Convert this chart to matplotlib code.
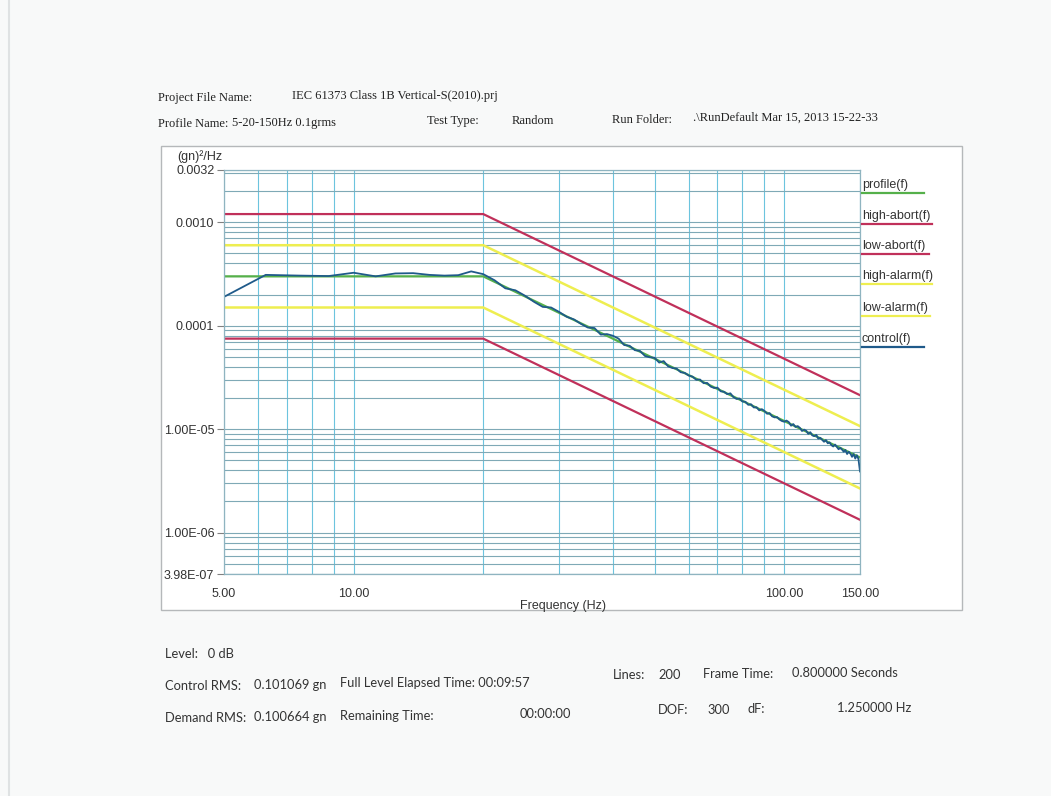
import numpy as np
import matplotlib.pyplot as plt
from matplotlib.lines import Line2D
from matplotlib.patches import Rectangle
from matplotlib.ticker import LogLocator, NullFormatter

# Profile / tolerance breakpoints (Hz, (gn)^2/Hz)
bp_freq = [5.0, 20.0, 150.0]
profile = [3.0e-4, 3.0e-4, 5.33e-6]
high_abort = [1.2e-3, 1.2e-3, 2.13e-5]
low_abort = [7.5e-5, 7.5e-5, 1.33e-6]
high_alarm = [6.0e-4, 6.0e-4, 1.07e-5]
low_alarm = [1.5e-4, 1.5e-4, 2.67e-6]

# Measured control spectrum, dF = 1.25 Hz starting at 5 Hz
df = 1.25
control = [
    # 5 - 20 Hz
    1.90e-4, 3.10e-4, 3.05e-4, 3.02e-4, 3.25e-4, 3.00e-4, 3.20e-4, 3.22e-4,
    3.10e-4, 3.05e-4, 3.08e-4, 3.35e-4, 3.15e-4,
    # 21.25 - 58.75 Hz
    2.75e-4, 2.30e-4, 2.20e-4, 1.95e-4, 1.70e-4, 1.52e-4, 1.50e-4, 1.36e-4,
    1.22e-4, 1.15e-4, 1.04e-4, 9.60e-5, 9.50e-5, 8.20e-5, 8.30e-5, 8.00e-5,
    7.50e-5, 6.50e-5, 6.40e-5, 5.80e-5, 5.70e-5, 5.10e-5, 4.95e-5, 4.90e-5,
    4.40e-5, 4.55e-5, 4.05e-5, 3.90e-5, 3.85e-5, 3.55e-5, 3.50e-5,
    # 60 - 98.75 Hz
    3.30e-5, 3.22e-5, 3.00e-5, 3.02e-5, 2.78e-5, 2.80e-5, 2.58e-5, 2.50e-5,
    2.52e-5, 2.32e-5, 2.30e-5, 2.18e-5, 2.22e-5, 2.04e-5, 1.96e-5, 1.98e-5,
    1.85e-5, 1.84e-5, 1.72e-5, 1.74e-5, 1.62e-5, 1.63e-5, 1.52e-5, 1.56e-5,
    1.50e-5, 1.41e-5, 1.43e-5, 1.33e-5, 1.30e-5, 1.31e-5, 1.24e-5, 1.20e-5,
    # 100 - 150 Hz
    1.18e-5, 1.21e-5, 1.17e-5, 1.08e-5, 1.12e-5, 1.05e-5, 1.07e-5, 1.03e-5,
    9.60e-6, 9.90e-6, 9.65e-6, 9.00e-6, 9.35e-6, 8.70e-6, 8.55e-6, 8.80e-6,
    8.10e-6, 8.25e-6, 7.90e-6, 7.55e-6, 7.85e-6, 7.30e-6, 7.45e-6, 7.00e-6,
    6.80e-6, 7.10e-6, 6.75e-6, 6.40e-6, 6.60e-6, 6.35e-6, 6.05e-6, 6.30e-6,
    5.75e-6, 6.05e-6, 5.80e-6, 5.40e-6, 5.75e-6, 5.20e-6, 5.60e-6, 5.15e-6,
    3.90e-6,
]
control_freq = 5.0 + df * np.arange(len(control))

y_ticks = [3.98e-7, 1e-6, 1e-5, 1e-4, 1e-3, 3.2e-3]
y_labels = ["3.98E-07", "1.00E-06", "1.00E-05", "0.0001", "0.0010", "0.0032"]
x_ticks = [5, 10, 100, 150]
x_labels = ["5.00", "10.00", "100.00", "150.00"]

legend_names = ["profile(f)", "high-abort(f)", "low-abort(f)",
                "high-alarm(f)", "low-alarm(f)", "control(f)"]

W, H = 1051, 796
c_green = "#55b04a"
c_red = "#c0305a"
c_yellow = "#eeee50"
c_blue = "#1f5a8a"


def px(x, y):
    return x / W, 1 - y / H


plt.rcParams["font.family"] = ["Liberation Sans", "DejaVu Sans"]
fig = plt.figure(figsize=(W / 100, H / 100), dpi=100, facecolor="#f8f9f9")

# page edge of the scan
fig.add_artist(Line2D([px(9, 0)[0]] * 2, [0, 1], transform=fig.transFigure,
                      color="#dfe2e3", lw=1.5))

# chart frame (behind the axes)
x0, y0 = px(161, 610)
x1, y1 = px(962, 146)
fig.patches.append(Rectangle((x0, y0), x1 - x0, y1 - y0, transform=fig.transFigure,
                             figure=fig, fill=True, facecolor="white",
                             edgecolor="#b5b8ba", lw=1.0, zorder=-5))

left, top = px(224, 170)
right, bottom = px(860, 574)
ax = fig.add_axes([left, bottom, right - left, top - bottom])
ax.set_facecolor("white")

ax.plot(bp_freq, high_abort, color=c_red, lw=1.6)
ax.plot(bp_freq, low_abort, color=c_red, lw=1.6)
ax.plot(bp_freq, high_alarm, color=c_yellow, lw=1.8)
ax.plot(bp_freq, low_alarm, color=c_yellow, lw=1.8)
ax.plot(bp_freq, profile, color=c_green, lw=1.6)
ax.plot(control_freq, control, color=c_blue, lw=1.3)

ax.set_xscale("log")
ax.set_yscale("log")
ax.set_xlim(5, 150)
ax.set_ylim(3.98e-7, 3.2e-3)

# grid
ax.xaxis.set_minor_locator(LogLocator(base=10, subs=np.arange(1, 10), numticks=20))
ax.yaxis.set_minor_locator(LogLocator(base=10, subs=np.arange(1, 10), numticks=20))
ax.xaxis.set_minor_formatter(NullFormatter())
ax.yaxis.set_minor_formatter(NullFormatter())
ax.set_xticks(x_ticks)
ax.set_xticklabels(x_labels)
ax.set_yticks(y_ticks)
ax.set_yticklabels(y_labels)
ax.grid(True, which="both", axis="x", color="#6cc4de", lw=0.8)
ax.grid(True, which="both", axis="y", color="#7fa9b6", lw=0.8)
ax.set_axisbelow(True)

ax.tick_params(axis="y", which="major", length=5, color="#808080",
               labelsize=9, labelcolor="#333333", pad=2)
ax.tick_params(axis="x", which="major", length=0, labelsize=9,
               labelcolor="#333333", pad=10)
ax.tick_params(which="minor", length=0)
for s in ax.spines.values():
    s.set_color("#8fb4c0")
    s.set_linewidth(0.9)

fig.text(*px(200, 157), "(gn)\u00b2/Hz", fontsize=9, color="#333333",
         ha="center", va="center")
fig.text(*px(563, 606), "Frequency (Hz)", fontsize=9, color="#333333",
         ha="center", va="center")

# legend on the right with coloured underlines
leg_colors = [c_green, c_red, c_red, c_yellow, c_yellow, c_blue]
leg_y = [185, 216, 246, 276, 308, 339]
leg_w = [62, 70, 67, 70, 68, 62]
for name, col, yy, w in zip(legend_names, leg_colors, leg_y, leg_w):
    fig.text(*px(862, yy), name, fontsize=9, color="#333333", va="center")
    xa, ya = px(862, yy + 8)
    xb, _ = px(862 + w, yy + 8)
    fig.add_artist(Line2D([xa, xb], [ya, ya], transform=fig.transFigure,
                          color=col, lw=1.6))

# header (serif)
serif = ["Liberation Serif", "DejaVu Serif"]
header = [
    (158, 98, "Project File Name:"),
    (292, 96, "IEC 61373 Class 1B Vertical-S(2010).prj"),
    (158, 124, "Profile Name:"),
    (232, 123, "5-20-150Hz 0.1grms"),
    (427, 121, "Test Type:"),
    (512, 121, "Random"),
    (612, 120, "Run Folder:"),
    (693, 118, ".\\RunDefault Mar 15, 2013 15-22-33"),
]
for xx, yy, s in header:
    fig.text(*px(xx, yy), s, fontsize=9, family=serif, color="#222222", va="center")

# footer (sans)
sans = ["Lato", "DejaVu Sans"]
footer = [
    (165, 654, "Level:   0 dB"),
    (165, 686, "Control RMS:"),
    (254, 685, "0.101069 gn"),
    (340, 683, "Full Level Elapsed Time: 00:09:57"),
    (613, 675, "Lines:"),
    (658, 675, "200"),
    (703, 674, "Frame Time:"),
    (792, 673, "0.800000 Seconds"),
    (165, 718, "Demand RMS:"),
    (254, 717, "0.100664 gn"),
    (340, 716, "Remaining Time:"),
    (520, 714, "00:00:00"),
    (658, 710, "DOF:"),
    (707, 710, "300"),
    (748, 709, "dF:"),
    (837, 708, "1.250000 Hz"),
]
for xx, yy, s in footer:
    fig.text(*px(xx, yy), s, fontsize=9.3, family=sans, color="#333333", va="center")

fig.savefig("out.png", dpi=100, facecolor=fig.get_facecolor())
